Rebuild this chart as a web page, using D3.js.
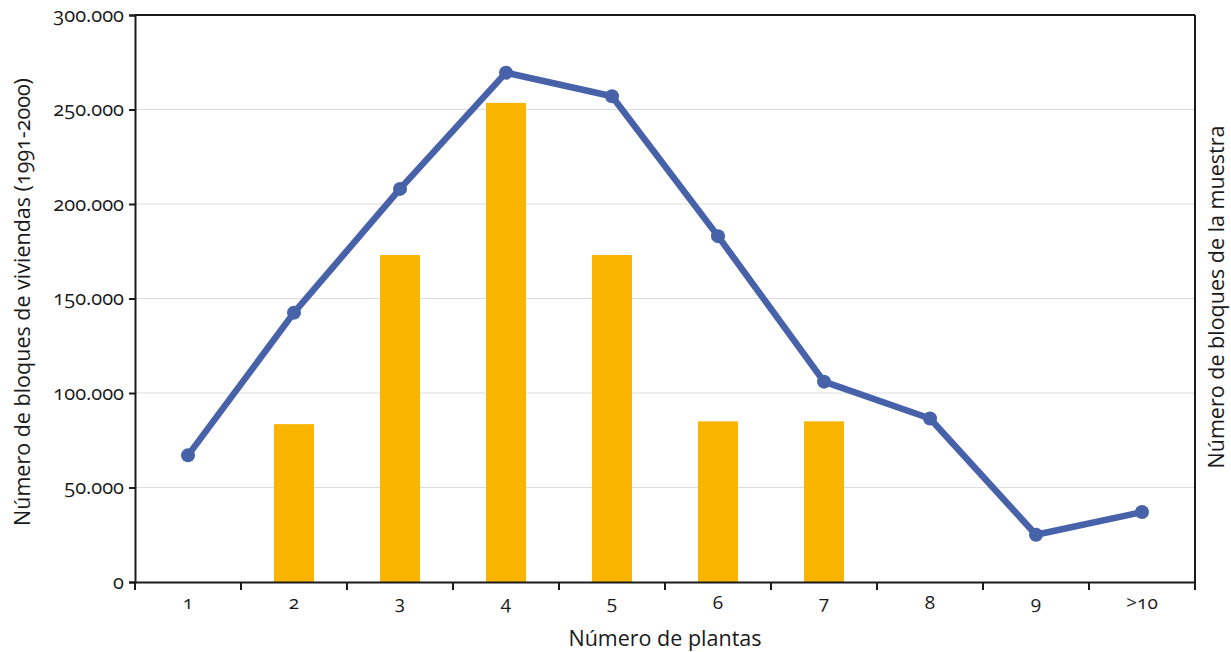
<!DOCTYPE html>
<html><head><meta charset="utf-8">
<script src="https://cdn.jsdelivr.net/npm/d3@7"></script>
<style>body{margin:0;background:#fff;} text{font-family:"Open Sans",sans-serif;fill:#1a1a1a;font-variant-numeric:oldstyle-nums;}</style>
</head><body>
<svg id="c" width="1231" height="652"></svg>
<script>
const categories = ["1","2","3","4","5","6","7","8","9",">10"];
const lineValues = [67000,142500,208000,269500,257000,183000,106000,86500,25000,37000];
const barValues = [0,83500,173000,253500,173000,85000,85000,0,0,0];
const yTicks = [0,50000,100000,150000,200000,250000,300000];

const svg = d3.select("#c");
const L=135, R=1195, T=15, B=582;
const x = d3.scaleBand().domain(categories).range([L,R]);
const y = d3.scaleLinear().domain([0,300000]).range([B,T]);
const fmt = d => d===0 ? "0" : d3.format(",")(d).replace(/,/g,".");

// grid
svg.append("g").selectAll("line").data(yTicks.slice(1,-1)).join("line")
  .attr("x1",L).attr("x2",R).attr("y1",d=>y(d)).attr("y2",d=>y(d))
  .attr("stroke","#dcdcdc").attr("stroke-width",1);

// bars
const bw = 40;
svg.append("g").selectAll("rect").data(barValues.map((v,i)=>({c:categories[i],v})).filter(d=>d.v>0)).join("rect")
  .attr("x",d=>x(d.c)+x.bandwidth()/2-bw/2).attr("width",bw)
  .attr("y",d=>y(d.v)).attr("height",d=>B-y(d.v)).attr("fill","#f9b400");

// frame top/right
svg.append("line").attr("x1",L).attr("x2",R).attr("y1",T).attr("y2",T).attr("stroke","#1a1a1a").attr("stroke-width",2);
svg.append("line").attr("x1",R).attr("x2",R).attr("y1",T).attr("y2",B).attr("stroke","#1a1a1a").attr("stroke-width",2);

// left axis
const ya = svg.append("g").attr("transform",`translate(${L},0)`)
  .call(d3.axisLeft(y).tickValues(yTicks).tickFormat(fmt).tickSize(6).tickPadding(5));
ya.select(".domain").attr("stroke","#1a1a1a").attr("stroke-width",2);
ya.selectAll(".tick line").attr("stroke","#1a1a1a").attr("stroke-width",2);
ya.selectAll("text").style("font-size","20px").attr("fill","#1a1a1a");

// bottom axis
const xa = svg.append("g").attr("transform",`translate(0,${B})`)
  .call(d3.axisBottom(x).tickSize(0).tickPadding(14));
xa.select(".domain").attr("stroke","#1a1a1a").attr("stroke-width",2);
xa.selectAll("text").style("font-size","19px").attr("fill","#1a1a1a");
const bounds = categories.map(c=>x(c)).concat([R]);
svg.append("g").selectAll("line").data(bounds).join("line")
  .attr("x1",d=>d).attr("x2",d=>d).attr("y1",B).attr("y2",B+8)
  .attr("stroke","#1a1a1a").attr("stroke-width",2);

// line
const pts = lineValues.map((v,i)=>[x(categories[i])+x.bandwidth()/2, y(v)]);
svg.append("path").attr("d",d3.line()(pts)).attr("fill","none")
  .attr("stroke","#4762a9").attr("stroke-width",6.5).attr("stroke-linejoin","round");
svg.append("g").selectAll("circle").data(pts).join("circle")
  .attr("cx",d=>d[0]).attr("cy",d=>d[1]).attr("r",7).attr("fill","#4762a9");

// titles
svg.append("text").attr("x",665).attr("y",646).attr("text-anchor","middle")
  .style("font-size","21.5px").text("Número de plantas");
svg.append("text").attr("transform",`translate(30,302) rotate(-90)`).attr("text-anchor","middle")
  .style("font-size","21.5px").text("Número de bloques de viviendas (1991-2000)");
svg.append("text").attr("transform",`translate(1224,297) rotate(-90)`).attr("text-anchor","middle")
  .style("font-size","21.5px").text("Número de bloques de la muestra");
</script>
</body></html>
